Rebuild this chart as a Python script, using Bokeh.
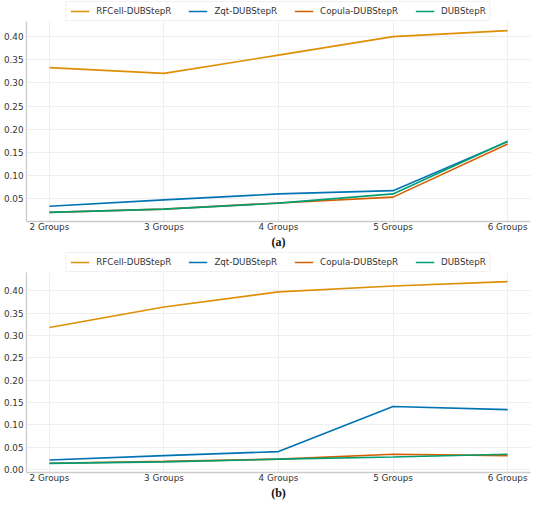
from bokeh.plotting import figure
from bokeh.models import (Range1d, FixedTicker, SingleIntervalTicker, NumeralTickFormatter,
                          Legend, LegendItem)
from bokeh.layouts import column
from bokeh.embed import file_html
from bokeh.resources import INLINE

groups = ["2 Groups", "3 Groups", "4 Groups", "5 Groups", "6 Groups"]
series_names = ["RFCell-DUBStepR", "Zqt-DUBStepR", "Copula-DUBStepR", "DUBStepR"]
colors = ["#DE8F05", "#0173B2", "#D55E00", "#029E73"]

# panel (a)
a_rfcell = [0.333, 0.3205, 0.360, 0.400, 0.413]
a_zqt = [0.0334, 0.047, 0.060, 0.067, 0.173]
a_copula = [0.020, 0.027, 0.0405, 0.053, 0.168]
a_dubstepr = [0.020, 0.027, 0.040, 0.060, 0.174]

# panel (b)
b_rfcell = [0.318, 0.364, 0.398, 0.411, 0.421]
b_zqt = [0.021, 0.031, 0.040, 0.141, 0.134]
b_copula = [0.014, 0.018, 0.023, 0.034, 0.031]
b_dubstepr = [0.0135, 0.017, 0.023, 0.028, 0.034]

FONT = "DejaVu Sans"
TXT = "#333333"
W = 534
NAN = float("nan")


def make_legend_fig():
    lf = figure(width=W, height=21, output_backend="svg", toolbar_location=None,
                x_range=Range1d(0, 1), y_range=Range1d(0, 1),
                x_axis_location=None, y_axis_location=None,
                min_border_left=26, min_border_right=3, min_border_top=0, min_border_bottom=0)
    lf.outline_line_color = None
    lf.xgrid.visible = False
    lf.ygrid.visible = False
    # legend-only renderers (nothing is drawn in the frame)
    rs = [lf.line([NAN], [NAN], line_color=c, line_width=1.6) for c in colors]
    legend = Legend(items=[LegendItem(label=n, renderers=[r]) for n, r in zip(series_names, rs)],
                    orientation="horizontal", location="center", margin=0, padding=4,
                    glyph_width=19, glyph_height=10, label_height=10, label_standoff=7, spacing=17,
                    label_text_font=FONT, label_text_font_size="8.7px", label_text_color=TXT,
                    border_line_color="#e3e3e3", border_line_width=1,
                    background_fill_color="white", background_fill_alpha=1.0)
    lf.add_layout(legend, "center")
    return lf


def make_panel(series, caption):
    xs = list(range(len(groups)))
    allv = [v for s in series for v in s]
    lo, hi = min(allv), max(allv)
    pad = 0.05 * (hi - lo)
    xpad = 0.05 * (len(groups) - 1)
    p = figure(width=W, height=230, output_backend="svg", toolbar_location=None,
               x_range=Range1d(-xpad, len(groups) - 1 + xpad),
               y_range=Range1d(lo - pad, hi + pad),
               min_border_left=0, min_border_right=4, min_border_top=0, min_border_bottom=0)
    p.outline_line_color = None
    for s, c in zip(series, colors):
        p.line(xs, s, line_color=c, line_width=1.6)

    p.xaxis.ticker = FixedTicker(ticks=xs)
    p.xaxis.major_label_overrides = {i: g for i, g in enumerate(groups)}
    p.yaxis.ticker = SingleIntervalTicker(interval=0.05)
    p.yaxis.formatter = NumeralTickFormatter(format="0.00")
    for ax in (p.xaxis, p.yaxis):
        ax.axis_line_color = "#cccccc"
        ax.axis_line_width = 1.3
        ax.major_tick_line_color = None
        ax.minor_tick_line_color = None
        ax.major_tick_out = 0
        ax.major_tick_in = 0
        ax.minor_tick_out = 0
        ax.minor_tick_in = 0
        ax.major_label_text_font = FONT
        ax.major_label_text_font_size = "8.8px"
        ax.major_label_text_color = TXT
    p.xaxis.major_label_standoff = 0
    p.yaxis.major_label_standoff = 3
    p.xaxis.axis_label = caption
    p.xaxis.axis_label_text_font = "Liberation Serif"
    p.xaxis.axis_label_text_font_style = "bold"
    p.xaxis.axis_label_text_font_size = "12px"
    p.xaxis.axis_label_text_color = "#111111"
    p.xaxis.axis_label_standoff = 0
    p.xgrid.ticker = FixedTicker(ticks=xs)
    p.xgrid.grid_line_color = "#efefef"
    p.ygrid.grid_line_color = "#efefef"
    return p


pa = make_panel([a_rfcell, a_zqt, a_copula, a_dubstepr], "(a)")
pb = make_panel([b_rfcell, b_zqt, b_copula, b_dubstepr], "(b)")
layout = column(make_legend_fig(), pa, make_legend_fig(), pb, spacing=0)

open("out.html", "w").write(file_html(layout, INLINE))
